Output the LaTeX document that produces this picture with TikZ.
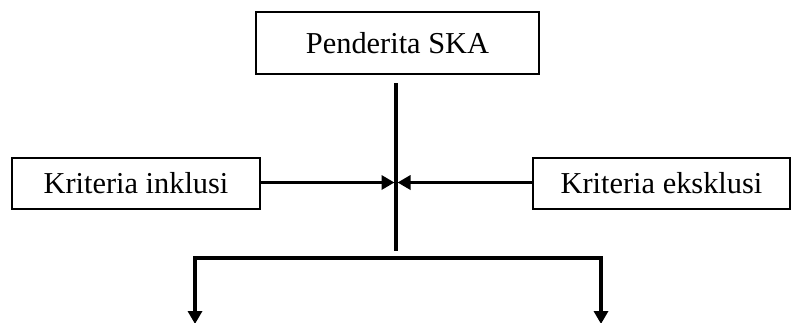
\documentclass[tikz,border=0pt]{standalone}
\usepackage{fontspec}
\setmainfont{Liberation Serif}
\usetikzlibrary{arrows.meta}
\begin{document}
\begin{tikzpicture}[x=1bp,y=-1bp,
  box/.style={draw,line width=1.4bp,rectangle,inner sep=0pt,
    font=\fontsize{30.5}{33}\selectfont},
  flow/.style={line width=3.4bp},
  tip/.style={flow,-{Triangle[length=13bp,width=14bp]}}]
\useasboundingbox (0,0) rectangle (791,322);

% boxes
\node[box,minimum width=283bp,minimum height=62bp] (ska) at (397.5,43) {Penderita SKA};
\node[box,minimum width=248bp,minimum height=51bp] (inkl) at (136,183.5) {Kriteria inklusi};
\node[box,minimum width=257bp,minimum height=51bp] (eksk) at (661.5,183.5) {Kriteria eksklusi};

% trunk and branch points
\coordinate (top) at (396,83);
\coordinate (mid) at (396,182.5);
\coordinate (bot) at (396,251);
\coordinate (barL) at (193,258);
\coordinate (barR) at (603,258);
\coordinate (legL) at (195,258);
\coordinate (legR) at (601,258);
\coordinate (endL) at (195,324);
\coordinate (endR) at (601,324);

\draw[flow] (top) -- (bot);
\draw[tip] (inkl.east |- mid) -- ([xshift=-1.5bp]mid);
\draw[tip] (eksk.west |- mid) -- ([xshift=1.5bp]mid);
\draw[flow] (barL) -- (barR);
\draw[tip] (legL) -- (endL);
\draw[tip] (legR) -- (endR);
\end{tikzpicture}
\end{document}
